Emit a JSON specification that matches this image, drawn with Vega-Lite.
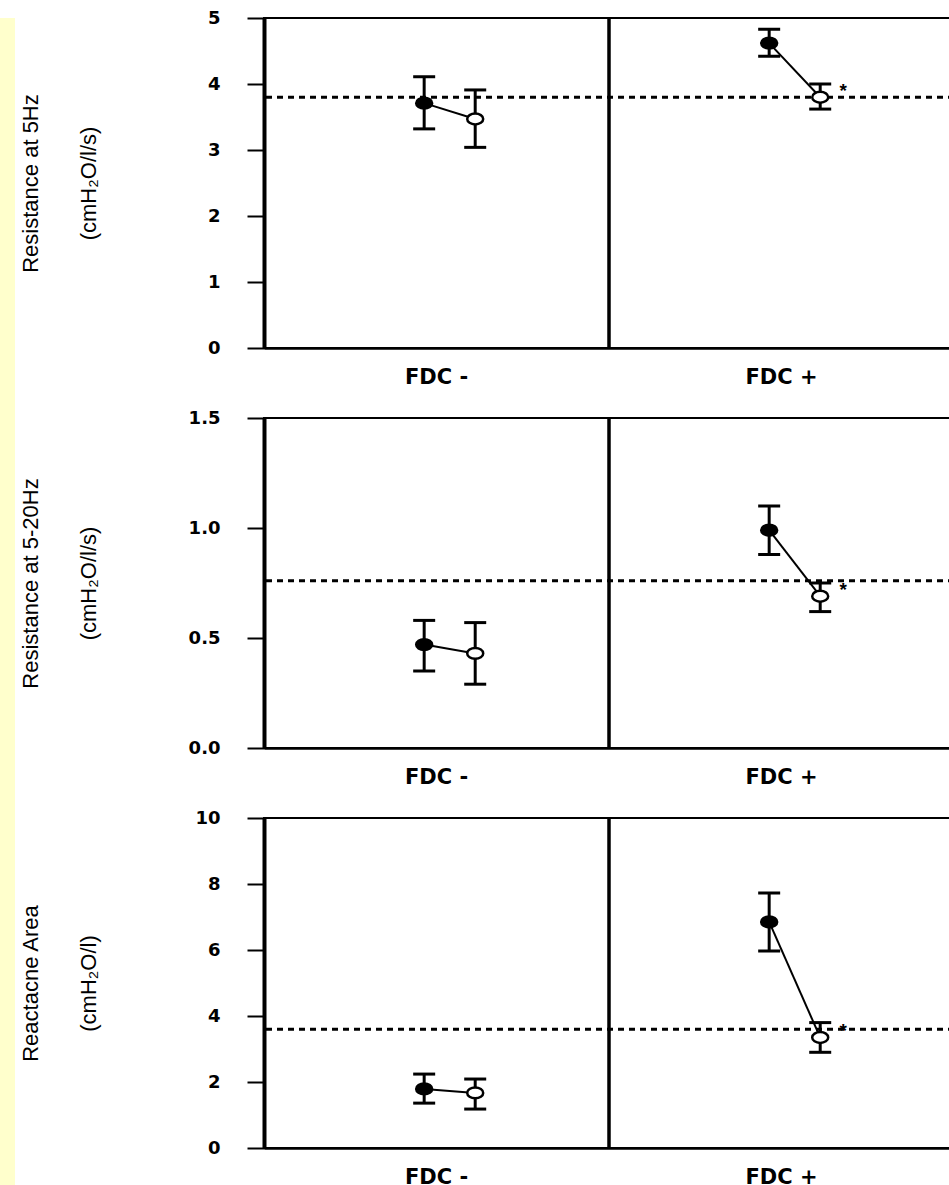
{
  "$schema": "https://vega.github.io/schema/vega-lite/v6.json",
  "background": "white",
  "padding": {"left": 0, "top": 8, "right": 0, "bottom": 0},
  "spacing": 2,
  "config": {
    "view": {"stroke": "black", "strokeWidth": 2},
    "axis": {"grid": false, "domainColor": "black", "tickColor": "black", "labelColor": "black", "titleColor": "black"},
    "axisX": {"ticks": false, "domainWidth": 2.5, "labelFontSize": 21, "labelFont": "DejaVu Sans", "labelFontWeight": "bold", "labelPadding": 18, "labelAngle": 0},
    "axisY": {"domainWidth": 4, "tickWidth": 2, "tickSize": 17, "labelFontSize": 18, "labelFont": "DejaVu Sans", "labelFontWeight": "bold", "labelPadding": 27, "titleFont": "Liberation Sans", "titleFontSize": 22, "titleFontWeight": "normal", "titleLineHeight": 58, "titleX": -222}
  },
  "datasets": {
    "r5": [
      {"group": "FDC -", "time": "pre", "mean": 3.71, "lo": 3.32, "hi": 4.11, "sig": ""},
      {"group": "FDC -", "time": "post", "mean": 3.47, "lo": 3.04, "hi": 3.91, "sig": ""},
      {"group": "FDC +", "time": "pre", "mean": 4.62, "lo": 4.42, "hi": 4.83, "sig": ""},
      {"group": "FDC +", "time": "post", "mean": 3.8, "lo": 3.62, "hi": 4.0, "sig": "*"}
    ],
    "r520": [
      {"group": "FDC -", "time": "pre", "mean": 0.47, "lo": 0.35, "hi": 0.58, "sig": ""},
      {"group": "FDC -", "time": "post", "mean": 0.43, "lo": 0.29, "hi": 0.57, "sig": ""},
      {"group": "FDC +", "time": "pre", "mean": 0.99, "lo": 0.88, "hi": 1.1, "sig": ""},
      {"group": "FDC +", "time": "post", "mean": 0.69, "lo": 0.62, "hi": 0.75, "sig": "*"}
    ],
    "xa": [
      {"group": "FDC -", "time": "pre", "mean": 1.79, "lo": 1.36, "hi": 2.24, "sig": ""},
      {"group": "FDC -", "time": "post", "mean": 1.67, "lo": 1.18, "hi": 2.09, "sig": ""},
      {"group": "FDC +", "time": "pre", "mean": 6.85, "lo": 5.97, "hi": 7.73, "sig": ""},
      {"group": "FDC +", "time": "post", "mean": 3.35, "lo": 2.9, "hi": 3.8, "sig": "*"}
    ]
  },
  "hconcat": [
    {
      "width": 15,
      "height": 1174,
      "data": {"values": []},
      "mark": "point",
      "encoding": {},
      "view": {"fill": "#ffffcc", "stroke": null}
    },
    {
      "spacing": 20,
      "vconcat": [
        {
          "width": 690,
          "height": 330,
          "data": {"name": "r5"},
          "layer": [
            {"data": {"values": [{}]}, "mark": {"type": "rule", "strokeDash": [6, 5], "strokeWidth": 3, "color": "black"}, "encoding": {"y": {"datum": 3.8}}},
            {"data": {"values": [{}]}, "mark": {"type": "rule", "strokeWidth": 3.5, "color": "black"}, "encoding": {"x": {"datum": "FDC +", "bandPosition": 0}}},
            {"mark": {"type": "line", "strokeWidth": 2, "color": "black"}, "encoding": {
              "x": {"field": "group", "type": "nominal", "scale": {"type": "band", "domain": ["FDC -", "FDC +"], "paddingInner": 0, "paddingOuter": 0}, "axis": {"title": null}},
              "xOffset": {"field": "time", "type": "nominal", "scale": {"domain": ["e1", "e2", "pre", "post", "e3", "e4"], "paddingInner": 0, "paddingOuter": 0.38, "align": 0.84}},
              "y": {"field": "mean", "type": "quantitative", "scale": {"domain": [0, 5], "nice": false}, "axis": {"values": [0, 1, 2, 3, 4, 5], "format": "d", "title": ["Resistance at 5Hz", "(cmH₂O/l/s)"]}},
              "detail": {"field": "group"}}},
            {"mark": {"type": "rule", "strokeWidth": 3, "color": "black"}, "encoding": {
              "x": {"field": "group", "type": "nominal"}, "xOffset": {"field": "time", "type": "nominal"},
              "y": {"field": "lo", "type": "quantitative"}, "y2": {"field": "hi"}}},
            {"mark": {"type": "tick", "size": 22, "thickness": 3, "color": "black", "opacity": 1}, "encoding": {
              "x": {"field": "group", "type": "nominal"}, "xOffset": {"field": "time", "type": "nominal"},
              "y": {"field": "lo", "type": "quantitative"}}},
            {"mark": {"type": "tick", "size": 22, "thickness": 3, "color": "black", "opacity": 1}, "encoding": {
              "x": {"field": "group", "type": "nominal"}, "xOffset": {"field": "time", "type": "nominal"},
              "y": {"field": "hi", "type": "quantitative"}}},
            {"mark": {"type": "point", "filled": true, "shape": "M-1,0A1,0.68,0,1,0,1,0A1,0.68,0,1,0,-1,0Z", "size": 256, "stroke": "black", "strokeWidth": 2.5, "opacity": 1}, "encoding": {
              "x": {"field": "group", "type": "nominal"}, "xOffset": {"field": "time", "type": "nominal"},
              "y": {"field": "mean", "type": "quantitative"},
              "fill": {"field": "time", "type": "nominal", "scale": {"domain": ["pre", "post"], "range": ["black", "white"]}, "legend": null}}},
            {"mark": {"type": "text", "dx": 23, "dy": -6, "fontSize": 19, "fontWeight": "bold", "color": "black"}, "encoding": {
              "x": {"field": "group", "type": "nominal"}, "xOffset": {"field": "time", "type": "nominal"},
              "y": {"field": "mean", "type": "quantitative"}, "text": {"field": "sig"}}}
          ]
        },
        {
          "width": 690,
          "height": 330,
          "data": {"name": "r520"},
          "layer": [
            {"data": {"values": [{}]}, "mark": {"type": "rule", "strokeDash": [6, 5], "strokeWidth": 3, "color": "black"}, "encoding": {"y": {"datum": 0.76}}},
            {"data": {"values": [{}]}, "mark": {"type": "rule", "strokeWidth": 3.5, "color": "black"}, "encoding": {"x": {"datum": "FDC +", "bandPosition": 0}}},
            {"mark": {"type": "line", "strokeWidth": 2, "color": "black"}, "encoding": {
              "x": {"field": "group", "type": "nominal", "scale": {"type": "band", "domain": ["FDC -", "FDC +"], "paddingInner": 0, "paddingOuter": 0}, "axis": {"title": null}},
              "xOffset": {"field": "time", "type": "nominal", "scale": {"domain": ["e1", "e2", "pre", "post", "e3", "e4"], "paddingInner": 0, "paddingOuter": 0.38, "align": 0.84}},
              "y": {"field": "mean", "type": "quantitative", "scale": {"domain": [0, 1.5], "nice": false}, "axis": {"values": [0, 0.5, 1, 1.5], "format": ".1f", "title": ["Resistance at 5-20Hz", "(cmH₂O/l/s)"]}},
              "detail": {"field": "group"}}},
            {"mark": {"type": "rule", "strokeWidth": 3, "color": "black"}, "encoding": {
              "x": {"field": "group", "type": "nominal"}, "xOffset": {"field": "time", "type": "nominal"},
              "y": {"field": "lo", "type": "quantitative"}, "y2": {"field": "hi"}}},
            {"mark": {"type": "tick", "size": 22, "thickness": 3, "color": "black", "opacity": 1}, "encoding": {
              "x": {"field": "group", "type": "nominal"}, "xOffset": {"field": "time", "type": "nominal"},
              "y": {"field": "lo", "type": "quantitative"}}},
            {"mark": {"type": "tick", "size": 22, "thickness": 3, "color": "black", "opacity": 1}, "encoding": {
              "x": {"field": "group", "type": "nominal"}, "xOffset": {"field": "time", "type": "nominal"},
              "y": {"field": "hi", "type": "quantitative"}}},
            {"mark": {"type": "point", "filled": true, "shape": "M-1,0A1,0.68,0,1,0,1,0A1,0.68,0,1,0,-1,0Z", "size": 256, "stroke": "black", "strokeWidth": 2.5, "opacity": 1}, "encoding": {
              "x": {"field": "group", "type": "nominal"}, "xOffset": {"field": "time", "type": "nominal"},
              "y": {"field": "mean", "type": "quantitative"},
              "fill": {"field": "time", "type": "nominal", "scale": {"domain": ["pre", "post"], "range": ["black", "white"]}, "legend": null}}},
            {"mark": {"type": "text", "dx": 23, "dy": -6, "fontSize": 19, "fontWeight": "bold", "color": "black"}, "encoding": {
              "x": {"field": "group", "type": "nominal"}, "xOffset": {"field": "time", "type": "nominal"},
              "y": {"field": "mean", "type": "quantitative"}, "text": {"field": "sig"}}}
          ]
        },
        {
          "width": 690,
          "height": 330,
          "data": {"name": "xa"},
          "layer": [
            {"data": {"values": [{}]}, "mark": {"type": "rule", "strokeDash": [6, 5], "strokeWidth": 3, "color": "black"}, "encoding": {"y": {"datum": 3.6}}},
            {"data": {"values": [{}]}, "mark": {"type": "rule", "strokeWidth": 3.5, "color": "black"}, "encoding": {"x": {"datum": "FDC +", "bandPosition": 0}}},
            {"mark": {"type": "line", "strokeWidth": 2, "color": "black"}, "encoding": {
              "x": {"field": "group", "type": "nominal", "scale": {"type": "band", "domain": ["FDC -", "FDC +"], "paddingInner": 0, "paddingOuter": 0}, "axis": {"title": null}},
              "xOffset": {"field": "time", "type": "nominal", "scale": {"domain": ["e1", "e2", "pre", "post", "e3", "e4"], "paddingInner": 0, "paddingOuter": 0.38, "align": 0.84}},
              "y": {"field": "mean", "type": "quantitative", "scale": {"domain": [0, 10], "nice": false}, "axis": {"values": [0, 2, 4, 6, 8, 10], "format": "d", "title": ["Reactacne Area", "(cmH₂O/l)"]}},
              "detail": {"field": "group"}}},
            {"mark": {"type": "rule", "strokeWidth": 3, "color": "black"}, "encoding": {
              "x": {"field": "group", "type": "nominal"}, "xOffset": {"field": "time", "type": "nominal"},
              "y": {"field": "lo", "type": "quantitative"}, "y2": {"field": "hi"}}},
            {"mark": {"type": "tick", "size": 22, "thickness": 3, "color": "black", "opacity": 1}, "encoding": {
              "x": {"field": "group", "type": "nominal"}, "xOffset": {"field": "time", "type": "nominal"},
              "y": {"field": "lo", "type": "quantitative"}}},
            {"mark": {"type": "tick", "size": 22, "thickness": 3, "color": "black", "opacity": 1}, "encoding": {
              "x": {"field": "group", "type": "nominal"}, "xOffset": {"field": "time", "type": "nominal"},
              "y": {"field": "hi", "type": "quantitative"}}},
            {"mark": {"type": "point", "filled": true, "shape": "M-1,0A1,0.68,0,1,0,1,0A1,0.68,0,1,0,-1,0Z", "size": 256, "stroke": "black", "strokeWidth": 2.5, "opacity": 1}, "encoding": {
              "x": {"field": "group", "type": "nominal"}, "xOffset": {"field": "time", "type": "nominal"},
              "y": {"field": "mean", "type": "quantitative"},
              "fill": {"field": "time", "type": "nominal", "scale": {"domain": ["pre", "post"], "range": ["black", "white"]}, "legend": null}}},
            {"mark": {"type": "text", "dx": 23, "dy": -6, "fontSize": 19, "fontWeight": "bold", "color": "black"}, "encoding": {
              "x": {"field": "group", "type": "nominal"}, "xOffset": {"field": "time", "type": "nominal"},
              "y": {"field": "mean", "type": "quantitative"}, "text": {"field": "sig"}}}
          ]
        }
      ]
    }
  ]
}
